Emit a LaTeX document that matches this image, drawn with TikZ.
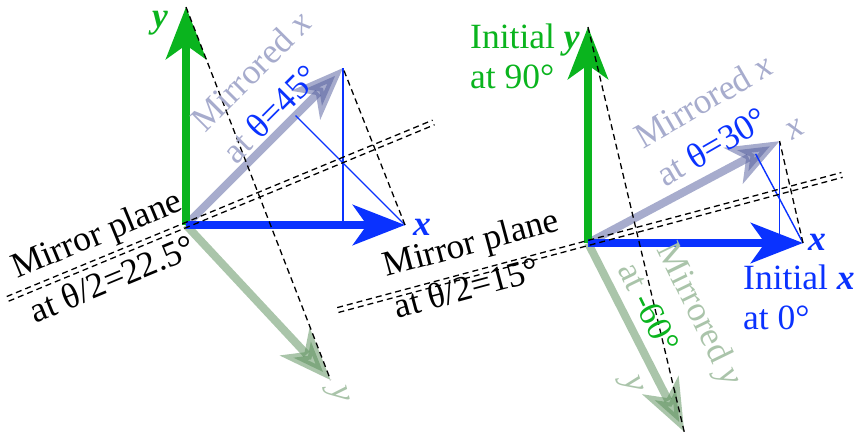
\documentclass[tikz,border=0pt]{standalone}
\usepackage{fontspec}
\setmainfont{Liberation Serif}
\usetikzlibrary{arrows.meta,calc}
\definecolor{ygreen}{RGB}{10,180,30}
\definecolor{xblue}{RGB}{10,50,255}
\definecolor{mxpale}{RGB}{167,172,205}
\definecolor{mypale}{RGB}{170,196,170}
\definecolor{mxdark}{RGB}{80,90,155}
\definecolor{mydark}{RGB}{85,140,85}
\begin{document}
\begin{tikzpicture}[x=1pt, y=1pt,
    axis/.style={line width=8pt, -{Stealth[length=52pt, width=40pt, inset=14pt]}},
    mirr/.style={axis, draw opacity=0.5, fill opacity=0.5},
    refl/.style={black, line width=1.3pt, dash pattern=on 6pt off 4pt},
    proj/.style={xblue, line width=1.4pt},
    lbl/.style={font=\fontsize{35.5}{44}\selectfont, inner sep=0pt, align=center},
    tag/.style={lbl, anchor=west, align=left}
]
    \useasboundingbox (0,0) rectangle (856,437);

    % Gauche : theta = 45
    \coordinate (oA) at (186,212);
    \coordinate (xA) at ($(oA)+(0:219)$);
    \coordinate (yA) at ($(oA)+(90:218)$);
    \coordinate (mxA) at ($(oA)+(45:222)$);
    \coordinate (myA) at ($(oA)+(-47:212)$);
    \coordinate (pA1) at ($(oA)+(202.5:193)$);
    \coordinate (pA2) at ($(oA)+(22.5:268)$);
    \coordinate (fA) at ($(oA)!(xA)!(mxA)$);
    \coordinate (gA) at ($(oA)!(mxA)!(xA)$);

    \draw[mirr, mxdark] (oA) -- (mxA);
    \draw[mirr, mydark] (oA) -- (myA);
    \draw[axis, ygreen] (oA) -- (yA);
    \draw[axis, xblue] (oA) -- (xA);
    \draw[proj] (xA) -- (fA);
    \draw[proj] (mxA) -- (gA);
    \draw[refl] (yA) -- (myA);
    \draw[refl] (xA) -- (mxA);
    \draw[refl] ([shift={(112.5:2.5)}]pA1) -- ([shift={(112.5:2.5)}]pA2);
    \draw[refl] ([shift={(-67.5:2.5)}]pA1) -- ([shift={(-67.5:2.5)}]pA2);

    \node[lbl, text=ygreen] (ylA) at (160,414) {\textbf{\textit{y}}};
    \node[lbl, text=xblue] (xlA) at (422,210) {\textbf{\textit{x}}};
    \node[tag, text=mxpale, rotate=45] (mxlA) at (212,296) {Mirrored \textit{x}\\at \textcolor{xblue}{θ=45°}};
    \node[tag, rotate=22.5, font=\fontsize{35.5}{48}\selectfont] (plA) at (22,147) {Mirror plane\\at θ/2=22.5°};
    \node[lbl, text=mypale, rotate=-75] (mylA) at (337,42) {\textit{y}};

    % Droite : theta = 30
    \coordinate (oB) at (588,194);
    \coordinate (xB) at ($(oB)+(0:215)$);
    \coordinate (yB) at ($(oB)+(90:216)$);
    \coordinate (mxB) at ($(oB)+(28:217)$);
    \coordinate (myB) at ($(oB)+(-63:212)$);
    \coordinate (pB1) at ($(oB)+(195:259)$);
    \coordinate (pB2) at ($(oB)+(15:263)$);
    \coordinate (fB) at ($(oB)!(xB)!(mxB)$);
    \coordinate (gB) at ($(oB)!(mxB)!(xB)$);

    \draw[mirr, mxdark] (oB) -- (mxB);
    \draw[mirr, mydark] (oB) -- (myB);
    \draw[axis, ygreen] (oB) -- (yB);
    \draw[axis, xblue] (oB) -- (xB);
    \draw[proj] (xB) -- (fB);
    \draw[proj] (mxB) -- (gB);
    \draw[refl] (yB) -- (myB);
    \draw[refl] (xB) -- (mxB);
    \draw[refl] ([shift={(105:2.5)}]pB1) -- ([shift={(105:2.5)}]pB2);
    \draw[refl] ([shift={(-75:2.5)}]pB1) -- ([shift={(-75:2.5)}]pB2);

    \node[tag, text=ygreen, font=\fontsize{35.5}{40}\selectfont] (ylB) at (470,381) {Initial \textbf{\textit{y}}\\at 90°};
    \node[tag, text=xblue, font=\fontsize{35.5}{40}\selectfont] (xiB) at (743,140) {Initial \textbf{\textit{x}}\\at 0°};
    \node[lbl, text=xblue] (xlB) at (817,195) {\textbf{\textit{x}}};
    \node[tag, text=mxpale, rotate=30] (mxlB) at (648,279) {Mirrored \textit{x}\\at \textcolor{xblue}{θ=30°}};
    \node[lbl, text=mxpale, rotate=30] (mxtB) at (795,307) {\textit{x}};
    \node[tag, rotate=15, font=\fontsize{35.5}{43}\selectfont] (plB) at (389,151) {Mirror plane\\at θ/2=15°};
    \node[tag, text=mypale, rotate=-64] (mylB) at (648,183) {Mirrored \textit{y}\\at \textcolor{ygreen}{-60°}};
    \node[lbl, text=mypale, rotate=-70] (mytB) at (630,52) {\textit{y}};
\end{tikzpicture}
\end{document}
